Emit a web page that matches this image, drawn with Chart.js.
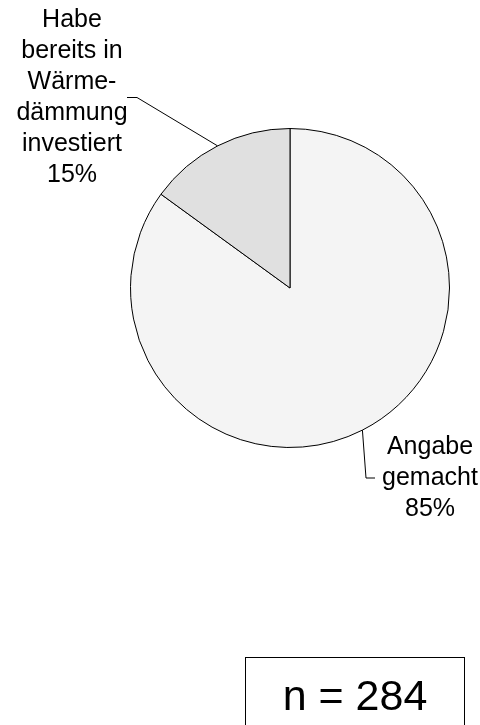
<!DOCTYPE html>
<html>
<head>
<meta charset="utf-8">
<script src="https://cdn.jsdelivr.net/npm/chart.js@4/dist/chart.umd.min.js"></script>
<style>
  body { margin: 0; background: #fff; }
  #wrap { position: relative; width: 480px; height: 725px; }
</style>
</head>
<body>
<div id="wrap"><canvas id="pieChart"></canvas></div>
<script>
// ===== DATA =====
const categories = ['Angabe gemacht', 'Habe bereits in Wärmedämmung investiert'];
const labelLines = [
  ['Angabe', 'gemacht'],
  ['Habe', 'bereits in', 'Wärme-', 'dämmung', 'investiert']
];
const shares = [85, 15];
const sampleSize = 284;

// ===== LABELS WITH LEADER LINES =====
const labelSpots = [
  { tx: 430, ty: 478, elbowX: 366, endX: 375 },
  { tx: 72, ty: 97.5, elbowX: 137, endX: 127 }
];

const calloutPlugin = {
  id: 'callouts',
  afterDraw(chart) {
    const ctx = chart.ctx;
    const arcs = chart.getDatasetMeta(0).data;
    ctx.save();
    ctx.strokeStyle = '#000';
    ctx.lineWidth = 1;
    ctx.fillStyle = '#000';
    ctx.font = '25px "Liberation Sans", Arial, sans-serif';
    ctx.textAlign = 'center';
    ctx.textBaseline = 'middle';

    arcs.forEach((arc, i) => {
      const spot = labelSpots[i];
      const mid = (arc.startAngle + arc.endAngle) / 2;
      const ex = arc.x + Math.cos(mid) * arc.outerRadius;
      const ey = arc.y + Math.sin(mid) * arc.outerRadius;

      ctx.beginPath();
      ctx.moveTo(ex, ey);
      ctx.lineTo(spot.elbowX, spot.ty);
      ctx.lineTo(spot.endX, spot.ty);
      ctx.stroke();

      const lines = [...labelLines[i], shares[i] + '%'];
      const lh = 31;
      lines.forEach((t, k) => {
        ctx.fillText(t, spot.tx, spot.ty + (k - (lines.length - 1) / 2) * lh);
      });
    });

    // sample size box
    ctx.strokeRect(245.5, 657.5, 219, 80);
    ctx.font = '43px "Liberation Sans", Arial, sans-serif';
    ctx.fillText('n = ' + sampleSize, 355, 698);
    ctx.restore();
  }
};

new Chart(document.getElementById('pieChart'), {
  type: 'pie',
  data: {
    labels: categories,
    datasets: [{
      data: shares,
      backgroundColor: ['#f4f4f4', '#e0e0e0'],
      borderColor: '#000',
      borderWidth: 1
    }]
  },
  options: {
    responsive: true,
    maintainAspectRatio: false,
    animation: false,
    layout: { padding: { left: 130, top: 128, right: 30, bottom: 277 } },
    plugins: {
      legend: { display: false },
      tooltip: { enabled: false }
    }
  },
  plugins: [calloutPlugin]
});
</script>
</body>
</html>
